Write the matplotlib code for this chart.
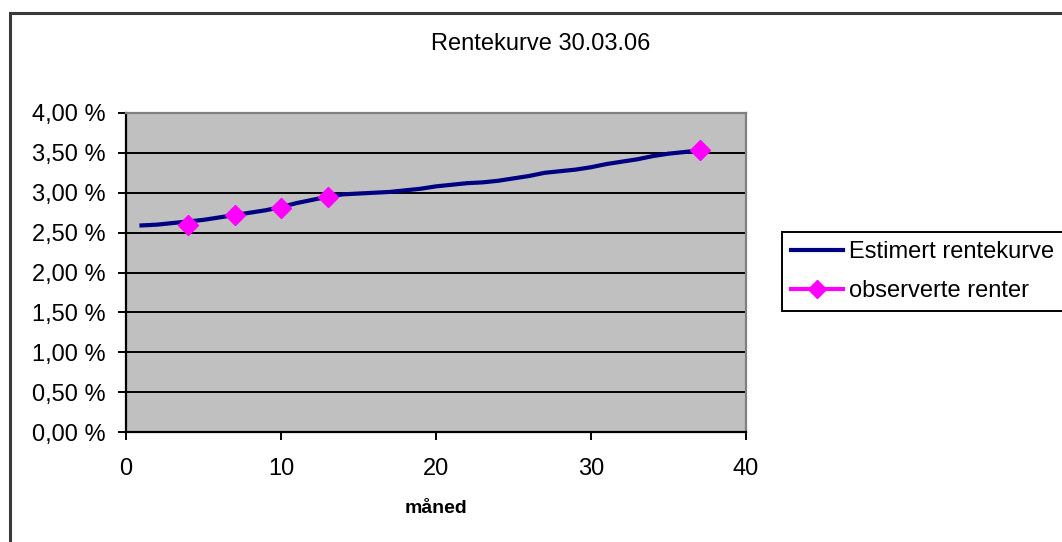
import matplotlib
matplotlib.use("Agg")
import matplotlib.pyplot as plt
from matplotlib.patches import Rectangle
from matplotlib.ticker import FuncFormatter

plt.rcParams['font.family'] = ['Liberation Sans', 'DejaVu Sans']

# Estimated yield curve, one point per month (percent)
maaned = list(range(1, 38))
estimert = [2.59, 2.60, 2.62, 2.64, 2.66, 2.69, 2.72, 2.75, 2.78, 2.82,
            2.87, 2.91, 2.95, 2.98, 2.99, 3.00, 3.01, 3.03, 3.05, 3.08,
            3.10, 3.12, 3.13, 3.15, 3.18, 3.21, 3.25, 3.27, 3.29, 3.32,
            3.36, 3.39, 3.42, 3.46, 3.49, 3.51, 3.53]

# Observed rates
obs_maaned = [4, 7, 10, 13, 37]
obs_renter = [2.60, 2.72, 2.81, 2.95, 3.53]

y_ticks = [0.0, 0.5, 1.0, 1.5, 2.0, 2.5, 3.0, 3.5, 4.0]
x_ticks = [0, 10, 20, 30, 40]

W, H = 1062, 542
fig = plt.figure(figsize=(W / 100, H / 100), dpi=100)
fig.patch.set_facecolor('white')

# chart area frame (runs off the right and bottom edge)
fig.patches.append(Rectangle((9.5 / W, -0.1), 1.2, 1.1 - 12.5 / H,
                             transform=fig.transFigure, fill=False,
                             edgecolor='#3a3a3a', linewidth=2.2))

ax = fig.add_axes([126 / W, 1 - 432 / H, 620 / W, 319 / H])
ax.set_facecolor('#C0C0C0')

ax.plot(maaned, estimert, color='#000080', linewidth=3,
        label='Estimert rentekurve', zorder=3)
ax.plot(obs_maaned, obs_renter, color='#FF00FF', linewidth=3,
        linestyle='none', marker='D', markersize=10,
        label='observerte renter', zorder=4)

ax.set_xlim(0, 40)
ax.set_ylim(0, 4)
ax.set_xticks(x_ticks)
ax.set_yticks(y_ticks)
ax.yaxis.set_major_formatter(FuncFormatter(lambda v, p: f"{v:.2f} %".replace('.', ',')))

ax.set_axisbelow(True)
ax.yaxis.grid(True, color='black', linewidth=1.4)

ax.tick_params(axis='both', direction='out', length=6, width=1.4,
               color='black', labelsize=17, labelcolor='black')
ax.tick_params(axis='y', pad=9)
ax.tick_params(axis='x', pad=13)

for side in ('top', 'right'):
    ax.spines[side].set_color('#808080')
    ax.spines[side].set_linewidth(1.6)
for side in ('left', 'bottom'):
    ax.spines[side].set_color('black')
    ax.spines[side].set_linewidth(1.6)

ax.set_xlabel('måned', fontsize=14, fontweight='bold', labelpad=14)

fig.text(541 / W, 1 - 44 / H, 'Rentekurve 30.03.06', fontsize=17,
         ha='center', va='center')

leg = ax.legend(loc='upper left', bbox_to_anchor=(782 / W, 1 - 232 / H),
                bbox_transform=fig.transFigure, fontsize=17, frameon=True,
                fancybox=False, edgecolor='black', framealpha=1,
                handlelength=2.2, handletextpad=0.25, borderpad=0.4,
                labelspacing=0.7, borderaxespad=0)
leg.get_frame().set_linewidth(1.4)
# observed marker drawn on a short line in the legend, as in the key
leg.legend_handles[1].set_linestyle('-')
leg.legend_handles[1].set_markersize(9)

fig.savefig('out.png', dpi=100, facecolor='white')
